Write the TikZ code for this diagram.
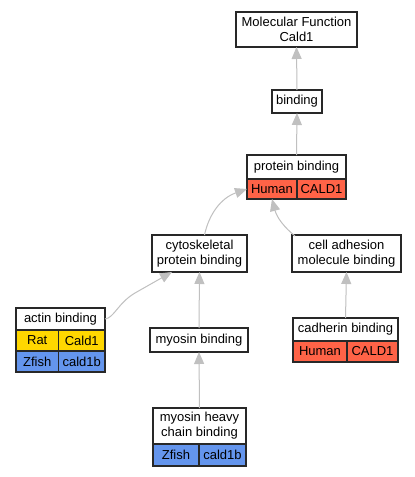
\documentclass[tikz,border=0pt]{standalone}
\usepackage{fontspec}
\setmainfont{Liberation Sans}
\usetikzlibrary{arrows.meta,calc}
\definecolor{edgegray}{RGB}{192,192,192}
\definecolor{boxline}{RGB}{40,40,40}
\definecolor{humancol}{RGB}{255,99,71}
\definecolor{ratcol}{RGB}{255,215,0}
\definecolor{fishcol}{RGB}{100,149,237}
\begin{document}
\begin{tikzpicture}[x=1pt,y=-1pt,
  termbox/.style={draw=boxline,line width=1.2pt,fill=white,inner sep=0pt,outer sep=0pt,
    align=center,font=\fontsize{13}{15}\selectfont},
  cellbox/.style={termbox},
  edge/.style={draw=edgegray,line width=1pt,-{Triangle[length=12pt,width=10pt]},color=edgegray}
]
\useasboundingbox (0,0) rectangle (415,477);
\fill[white] (0,0) rectangle (415,477);

% nodes
\node[termbox,minimum width=121pt,minimum height=35pt] (mf) at (296.5,29.5) {Molecular Function\\Cald1};
\node[termbox,minimum width=50pt,minimum height=23pt] (bind) at (297,101.5) {binding};

\node[termbox,minimum width=99pt,minimum height=24pt] (pb) at (296.5,167) {protein binding};
\node[cellbox,fill=humancol,minimum width=50pt,minimum height=20pt] (pbh) at (272,189) {Human};
\node[cellbox,fill=humancol,minimum width=49pt,minimum height=20pt] (pbc) at (321.5,189) {CALD1};

\node[termbox,minimum width=95pt,minimum height=37pt] (cyto) at (199.5,253.5) {cytoskeletal\\protein binding};
\node[termbox,minimum width=109pt,minimum height=37pt] (cam) at (346.5,253.5) {cell adhesion\\molecule binding};

\node[termbox,minimum width=89pt,minimum height=22pt] (ab) at (60.5,319) {actin binding};
\node[cellbox,fill=ratcol,minimum width=42.5pt,minimum height=21pt] (abr) at (37.25,340.5) {Rat};
\node[cellbox,fill=ratcol,minimum width=46.5pt,minimum height=21pt] (abrg) at (81.75,340.5) {Cald1};
\node[cellbox,fill=fishcol,minimum width=42.5pt,minimum height=21pt] (abz) at (37.25,361.5) {Zfish};
\node[cellbox,fill=fishcol,minimum width=46.5pt,minimum height=21pt] (abzg) at (81.75,361.5) {cald1b};

\node[termbox,minimum width=98pt,minimum height=24pt] (myo) at (199,340) {myosin binding};

\node[termbox,minimum width=105pt,minimum height=23pt] (cad) at (345.5,329.5) {cadherin binding};
\node[cellbox,fill=humancol,minimum width=54pt,minimum height=21pt] (cadh) at (320,351.5) {Human};
\node[cellbox,fill=humancol,minimum width=51pt,minimum height=21pt] (cadc) at (372.5,351.5) {CALD1};

\node[termbox,minimum width=93pt,minimum height=36pt] (mhc) at (199.5,426) {myosin heavy\\chain binding};
\node[cellbox,fill=fishcol,minimum width=46pt,minimum height=22pt] (mhcz) at (176,455) {Zfish};
\node[cellbox,fill=fishcol,minimum width=47pt,minimum height=22pt] (mhcg) at (222.5,455) {cald1b};

% edges
\draw[edge] (bind.north) -- (mf.south);
\draw[edge] (pb.north) -- (bind.south);
\draw[edge] ($(cyto.north)+(5,0)$) .. controls (209,214) and (221,198) .. (pbh.west);
\draw[edge] ($(cam.north west)+(3,1)$) .. controls (285,228) and (277,218) .. (pbh.south);
\draw[edge] (ab.east) .. controls (114,318) and (118,303) .. (135,293) -- ($(cyto.south west)+(20,0)$);
\draw[edge] (myo.north) -- (cyto.south);
\draw[edge] (mhc.north) -- (myo.south);
\draw[edge] (cad.north) -- (cam.south);
\end{tikzpicture}
\end{document}
